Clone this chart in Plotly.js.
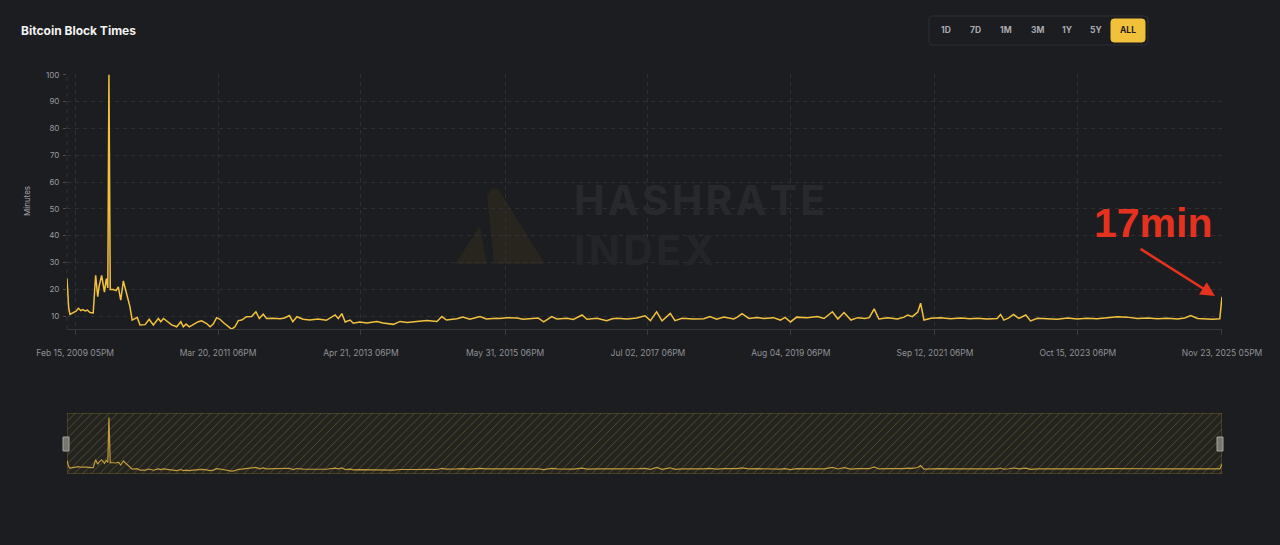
<!DOCTYPE html>
<html>
<head>
<meta charset="utf-8">
<script src="https://cdn.plot.ly/plotly-3.0.1.min.js"></script>
<style>
  html, body { margin:0; padding:0; background:#1c1d20; }
  #chart { width:1280px; height:545px; }
</style>
</head>
<body>
<div id="chart"></div>
<script>
// ---------------- DATA ----------------
const dates = [
 '2009-01-03','2009-01-12','2009-01-19','2009-02-05','2009-02-20','2009-03-05','2009-03-18','2009-03-28',
 '2009-04-10','2009-04-22','2009-05-06','2009-05-23','2009-06-05','2009-06-16','2009-06-23','2009-07-07',
 '2009-07-13','2009-07-22','2009-08-01','2009-08-09','2009-08-15','2009-08-22','2009-09-07','2009-09-22',
 '2009-10-04','2009-10-17','2009-10-31','2009-11-14','2009-11-23','2009-12-05','2009-12-17','2010-01-01',
 '2010-01-13','2010-01-28','2010-02-24','2010-03-18','2010-04-09','2010-05-06','2010-05-19','2010-06-02',
 '2010-06-20','2010-07-16','2010-08-12','2010-09-03','2010-09-16','2010-10-01','2010-10-18','2010-11-08',
 '2010-12-05','2010-12-23','2011-01-19','2011-02-06','2011-02-23','2011-03-13','2011-03-31','2011-04-21',
 '2011-05-14','2011-06-01','2011-06-19','2011-07-07','2011-07-25','2011-08-20','2011-09-16','2011-10-09',
 '2011-10-27','2011-11-17','2011-12-05','2012-01-08','2012-02-15','2012-03-10','2012-04-05','2012-04-23',
 '2012-05-15','2012-06-17','2012-07-23','2012-09-05','2012-10-19','2012-12-05','2012-12-22','2013-01-10',
 '2013-01-28','2013-02-23','2013-03-12','2013-04-16','2013-05-22','2013-07-16','2013-08-18','2013-10-12',
 '2013-11-17','2013-12-24','2014-02-13','2014-04-09','2014-06-02','2014-06-28','2014-07-23','2014-09-16',
 '2014-10-19','2014-11-24','2015-01-18','2015-02-20','2015-04-16','2015-05-04','2015-06-10','2015-08-03',
 '2015-09-05','2015-10-12','2015-11-24','2015-12-24','2016-02-05','2016-03-03','2016-04-27','2016-05-30',
 '2016-07-16','2016-08-11','2016-10-04','2016-11-24','2016-12-25','2017-01-18','2017-03-14','2017-05-04',
 '2017-06-17','2017-07-16','2017-08-18','2017-09-16','2017-10-30','2017-11-24','2018-01-01','2018-03-03',
 '2018-04-27','2018-05-30','2018-07-05','2018-08-11','2018-10-04','2018-10-23','2018-11-17','2018-12-24',
 '2019-02-05','2019-03-14','2019-05-04','2019-06-10','2019-07-05','2019-08-03','2019-09-05','2019-10-30',
 '2019-12-24','2020-01-29','2020-03-14','2020-04-12','2020-05-15','2020-06-21','2020-07-27','2020-09-02',
 '2020-09-27','2020-10-23','2020-11-17','2021-01-04','2021-02-24','2021-04-01','2021-04-20','2021-05-15',
 '2021-06-13','2021-06-28','2021-07-16','2021-08-22','2021-10-12','2021-12-05','2022-01-29','2022-03-21',
 '2022-04-27','2022-06-17','2022-08-11','2022-08-29','2022-09-16','2022-10-12','2022-11-06','2022-12-05',
 '2023-01-11','2023-02-05','2023-03-14','2023-05-04','2023-06-28','2023-08-22','2023-10-12','2023-12-05',
 '2024-01-26','2024-03-21','2024-05-15','2024-07-05','2024-08-29','2024-10-23','2024-12-13','2025-02-05',
 '2025-04-01','2025-05-08','2025-06-10','2025-07-16','2025-08-22','2025-10-04','2025-11-12','2025-11-23 17:00'
];
const blockMinutes = [
 24.0,13.0,10.6,11.2,11.8,12.9,12.0,12.4,
 11.9,12.2,11.3,11.2,25.2,17.2,21.0,25.2,
 23.0,18.9,24.0,20.5,100,19.9,19.9,19.5,
 20.9,15.9,23.1,18.9,17.2,13.5,8.5,9.1,
 9.5,6.7,6.8,8.8,6.7,9.1,7.9,9.1,
 8.0,6.7,6.0,7.9,6.0,7.0,6.0,6.8,
 7.9,8.2,7.2,6.0,7.0,9.4,8.8,7.4,
 6.0,5.1,6.0,8.3,8.5,9.75,9.8,11.6,
 9.1,10.7,9.1,9.2,9.0,9.3,10.2,7.9,
 9.75,8.8,8.5,8.9,8.4,10.4,9.1,10.9,
 7.8,8.5,7.3,7.8,7.4,8.0,7.4,6.9,
 8.0,7.6,8.0,8.3,8.0,9.8,8.5,9.0,
 9.6,8.8,9.8,8.9,9.2,9.1,9.4,9.3,
 8.8,9.0,9.3,7.8,9.8,8.9,9.2,8.7,
 10.4,8.8,9.2,8.3,9.0,9.2,8.9,9.3,
 10.1,8.3,11.6,8.2,11.0,8.3,9.2,8.9,
 9.0,9.8,8.8,9.6,8.9,9.6,10.9,9.1,
 9.5,9.1,9.4,8.5,9.5,7.8,9.6,9.4,
 9.8,9.1,11.6,8.9,11.3,8.5,9.4,9.1,
 9.4,12.7,8.9,9.4,8.9,9.6,10.4,9.8,
 11.5,14.8,8.5,9.2,9.4,9.0,9.3,9.0,
 9.2,8.9,9.1,10.6,8.5,9.3,10.6,9.1,
 10.4,8.2,9.2,9.0,8.8,9.3,8.9,9.2,
 9.0,9.4,9.7,9.6,9.1,9.3,9.0,9.2,
 8.9,9.3,10.2,9.1,8.9,8.8,9.0,17.2
];
const xTickDates = ['2009-02-15 17:00','2011-03-20 18:00','2013-04-21 18:00','2015-05-31 18:00',
  '2017-07-02 18:00','2019-08-04 18:00','2021-09-12 18:00','2023-10-15 18:00','2025-11-23 17:00'];
const xTickLabels = ['Feb 15, 2009 05PM','Mar 20, 2011 06PM','Apr 21, 2013 06PM','May 31, 2015 06PM',
  'Jul 02, 2017 06PM','Aug 04, 2019 06PM','Sep 12, 2021 06PM','Oct 15, 2023 06PM','Nov 23, 2025 05PM'];
const yTicks = [10,20,30,40,50,60,70,80,90,100];
const rangeButtons = ['1D','7D','1M','3M','1Y','5Y','ALL'];
const chartTitle = 'Bitcoin Block Times';
const yTitle = 'Minutes';
const calloutText = '17min';
const watermarkLines = ['HASHRATE', 'INDEX'];

// ---------------- LAYOUT HELPERS ----------------
const W = 1280, H = 545;
const PX = v => v / W;
const PY = v => 1 - v / H;
function rr(x0, y0, x1, y1, r) {
  const X = v => PX(v).toFixed(5), Y = v => PY(v).toFixed(5);
  return `M${X(x0+r)},${Y(y0)} L${X(x1-r)},${Y(y0)} Q${X(x1)},${Y(y0)} ${X(x1)},${Y(y0+r)} ` +
         `L${X(x1)},${Y(y1-r)} Q${X(x1)},${Y(y1)} ${X(x1-r)},${Y(y1)} L${X(x0+r)},${Y(y1)} ` +
         `Q${X(x0)},${Y(y1)} ${X(x0)},${Y(y1-r)} L${X(x0)},${Y(y0+r)} Q${X(x0)},${Y(y0)} ${X(x0+r)},${Y(y0)} Z`;
}
function poly(pts) {
  return 'M' + pts.map(p => PX(p[0]).toFixed(5) + ',' + PY(p[1]).toFixed(5)).join(' L') + ' Z';
}
const spaced = s => s.split('').join('\u200A');

const xStart = dates[0];
const xEnd = dates[dates.length - 1];
const plotX = [PX(67), PX(1222)];
const mainY = [PY(329), PY(74)];
const sliderY = [PY(474), PY(413)];
const sliderTop = 108;

const FONT = 'Inter, "Open Sans", "DejaVu Sans", sans-serif';

const traces = [
  {
    x: dates, y: blockMinutes, type: 'scatter', mode: 'lines',
    line: { color: '#f2c23f', width: 1.5, shape: 'linear' },
    xaxis: 'x', yaxis: 'y', hoverinfo: 'skip'
  },
  {
    x: [xStart, xEnd, xEnd, xStart, xStart],
    y: [0, 0, sliderTop, sliderTop, 0],
    type: 'scatter', mode: 'lines', fill: 'toself',
    fillcolor: '#25241f',
    fillpattern: { shape: '/', fgcolor: 'rgba(160,130,60,0.5)', bgcolor: '#23231f', size: 6, solidity: 0.14 },
    line: { color: '#6a5a2c', width: 1 },
    xaxis: 'x2', yaxis: 'y2', hoverinfo: 'skip'
  },
  {
    x: dates, y: blockMinutes, type: 'scatter', mode: 'lines',
    line: { color: '#c29c3e', width: 1.2 },
    xaxis: 'x2', yaxis: 'y2', hoverinfo: 'skip'
  }
];

const btnCenters = [946, 975, 1006, 1037, 1067, 1096, 1128];

const annotations = [
  { text: '<b>' + chartTitle + '</b>', xref: 'paper', yref: 'paper', x: PX(19), y: PY(30),
    xanchor: 'left', yanchor: 'middle', showarrow: false,
    font: { family: FONT, size: 12, color: '#f2f2f2' } },
  { text: yTitle, xref: 'paper', yref: 'paper', x: PX(27), y: PY(201), textangle: -90,
    xanchor: 'center', yanchor: 'middle', showarrow: false,
    font: { family: FONT, size: 8, color: '#a3a5a9' } },
  { text: '<b>' + spaced(watermarkLines[0]) + '</b>', xref: 'paper', yref: 'paper', x: PX(572), y: PY(200),
    xanchor: 'left', yanchor: 'middle', showarrow: false,
    font: { family: FONT, size: 41, color: '#28292c' } },
  { text: '<b>' + spaced(watermarkLines[1]) + '</b>', xref: 'paper', yref: 'paper', x: PX(572), y: PY(250),
    xanchor: 'left', yanchor: 'middle', showarrow: false,
    font: { family: FONT, size: 41, color: '#242528' } },
  { text: '<b>' + calloutText + '</b>', xref: 'paper', yref: 'paper', x: PX(1153), y: PY(223),
    xanchor: 'center', yanchor: 'middle', showarrow: false,
    font: { family: '"Liberation Sans", Arial, sans-serif', size: 41, color: '#e5321f' } },
  { text: '', xref: 'paper', yref: 'paper', x: PX(1215), y: PY(296),
    axref: 'pixel', ayref: 'pixel', ax: -76, ay: -48,
    showarrow: true, arrowhead: 2, arrowsize: 1.1, arrowwidth: 2.6, arrowcolor: '#e5321f' }
];
rangeButtons.forEach((b, i) => {
  const active = b === 'ALL';
  annotations.push({
    text: '<b>' + b + '</b>', xref: 'paper', yref: 'paper', x: PX(btnCenters[i]), y: PY(30.5),
    xanchor: 'center', yanchor: 'middle', showarrow: false,
    font: { family: FONT, size: 8.5, color: active ? '#1c1d20' : '#a9abaf' }
  });
});

const shapes = [
  // watermark logo
  { type: 'path', xref: 'paper', yref: 'paper', layer: 'below', line: { width: 0 }, fillcolor: '#27251d',
    path: poly([[455,264],[480,226],[487,264]]) },
  { type: 'path', xref: 'paper', yref: 'paper', layer: 'below', line: { width: 0 }, fillcolor: '#27251d',
    path: poly([[487,196],[492,188],[499,190],[545,264],[494,264]]) },
  // range button panel
  { type: 'path', xref: 'paper', yref: 'paper', layer: 'above', path: rr(929, 16, 1148, 45, 4),
    fillcolor: 'rgba(0,0,0,0)', line: { color: '#2d2f33', width: 1 } },
  { type: 'path', xref: 'paper', yref: 'paper', layer: 'below', path: rr(1111, 19, 1145, 42, 3),
    fillcolor: '#f2c13c', line: { color: '#f2c13c', width: 1 } },
  // plot left edge dashed
  { type: 'line', xref: 'paper', yref: 'paper', x0: PX(67), x1: PX(67), y0: mainY[0], y1: mainY[1],
    layer: 'below', line: { color: '#2f3135', width: 1, dash: '4px,4px' } },
  // slider handles
  { type: 'rect', xref: 'paper', yref: 'paper', x0: PX(63), x1: PX(69), y0: PY(451), y1: PY(437),
    layer: 'above', fillcolor: '#77776f', line: { color: '#a5a59c', width: 1 } },
  { type: 'rect', xref: 'paper', yref: 'paper', x0: PX(1217), x1: PX(1223), y0: PY(451), y1: PY(437),
    layer: 'above', fillcolor: '#77776f', line: { color: '#a5a59c', width: 1 } }
];

const layout = {
  width: W, height: H,
  paper_bgcolor: '#1c1d20', plot_bgcolor: '#1c1d20',
  margin: { l: 0, r: 0, t: 0, b: 0 },
  showlegend: false,
  font: { family: FONT, size: 8, color: '#9a9ca0' },
  xaxis: {
    domain: plotX, anchor: 'y', type: 'date', range: [xStart, '2025-11-23 18:00'],
    tickmode: 'array', tickvals: xTickDates, ticktext: xTickLabels,
    showgrid: true, gridcolor: '#2e3034', griddash: '4px,4px', gridwidth: 1,
    ticks: 'outside', ticklen: 5, tickcolor: '#3a3c40',
    showline: true, linecolor: '#34363a', linewidth: 1, zeroline: false,
    tickfont: { family: FONT, size: 8.5, color: '#8f9196' }, ticklabelstandoff: 11,
    fixedrange: true
  },
  yaxis: {
    domain: mainY, anchor: 'x', range: [5.17, 100.3],
    tickmode: 'array', tickvals: yTicks,
    showgrid: true, gridcolor: '#2e3034', griddash: '4px,4px', gridwidth: 1,
    ticks: 'outside', ticklen: 3, tickcolor: '#4a4c50',
    showline: false, zeroline: false,
    tickfont: { family: FONT, size: 8, color: '#9a9ca0' }, ticklabelstandoff: 2,
    fixedrange: true
  },
  xaxis2: { domain: plotX, anchor: 'y2', type: 'date', range: [xStart, xEnd], visible: false, fixedrange: true },
  yaxis2: { domain: sliderY, anchor: 'x2', range: [0, sliderTop], visible: false, fixedrange: true },
  annotations: annotations,
  shapes: shapes
};

Plotly.newPlot('chart', traces, layout, { staticPlot: true, displayModeBar: false, responsive: false });
</script>
</body>
</html>
